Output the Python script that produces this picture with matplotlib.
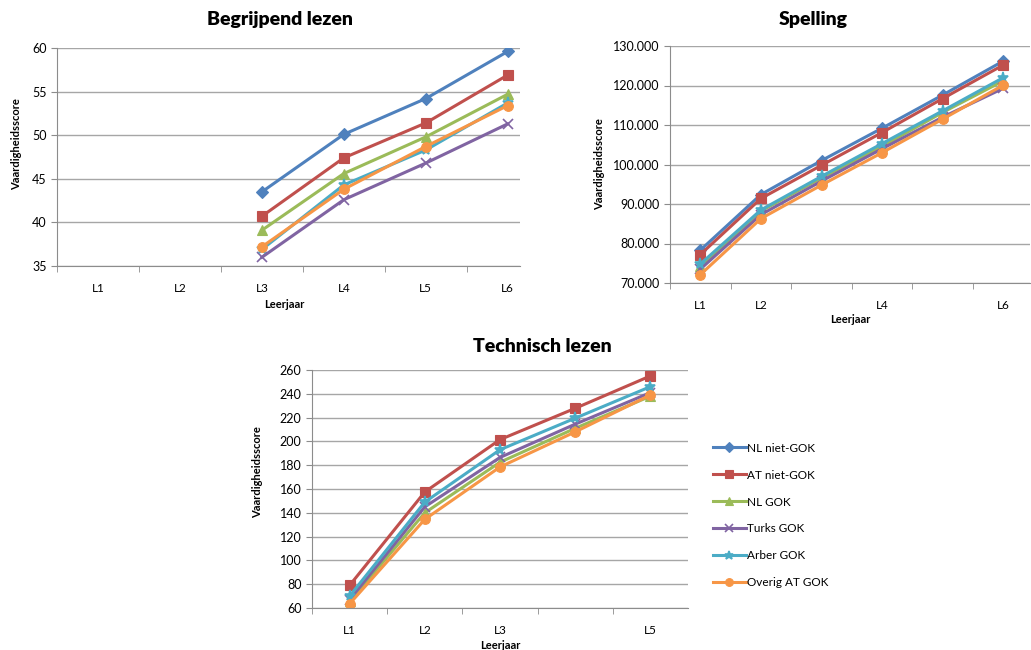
import numpy as np
import matplotlib
matplotlib.use("Agg")
import matplotlib.pyplot as plt
from matplotlib.ticker import FuncFormatter, FixedLocator

plt.rcParams['font.family'] = ['Lato', 'DejaVu Sans']

nan = np.nan
series = ["NL niet-GOK", "AT niet-GOK", "NL GOK", "Turks GOK", "Arber GOK", "Overig AT GOK"]
colors = ["#4F81BD", "#C0504D", "#9BBB59", "#8064A2", "#4BACC6", "#F79646"]
markers = ["D", "s", "^", "x", "*", "o"]

# Begrijpend lezen
bl_labels = ["L1", "L2", "L3", "L4", "L5", "L6"]
bl_nl_niet = [nan, nan, 43.5, 50.1, 54.2, 59.6]
bl_at_niet = [nan, nan, 40.7, 47.4, 51.4, 56.9]
bl_nl_gok = [nan, nan, 39.1, 45.6, 49.8, 54.7]
bl_turks = [nan, nan, 36.0, 42.6, 46.8, 51.3]
bl_arber = [nan, nan, 36.9, 44.3, 48.3, 53.7]
bl_overig = [nan, nan, 37.2, 43.8, 48.7, 53.4]

# Spelling
sp_labels = ["L1", "L2", "", "L4", "", "L6"]
sp_nl_niet = [78.3, 92.4, 101.0, 109.2, 117.6, 126.2]
sp_at_niet = [77.2, 91.4, 99.8, 108.1, 116.7, 125.2]
sp_nl_gok = [74.2, 88.2, 96.6, 104.6, 113.2, 121.2]
sp_turks = [73.5, 87.3, 95.8, 104.0, 112.0, 119.3]
sp_arber = [74.8, 88.5, 97.0, 105.3, 113.6, 122.0]
sp_overig = [72.1, 86.3, 94.8, 103.0, 111.5, 120.1]

# Technisch lezen
tl_labels = ["L1", "L2", "L3", "", "L5"]
tl_nl_niet = [nan, nan, nan, nan, nan]
tl_at_niet = [79.0, 157.5, 201.5, 227.8, 255.0]
tl_nl_gok = [65.5, 140.0, 182.5, 211.0, 238.0]
tl_turks = [67.0, 145.0, 186.5, 214.5, 241.0]
tl_arber = [70.0, 149.0, 193.0, 219.5, 246.0]
tl_overig = [63.5, 134.5, 178.5, 208.0, 239.0]

bl_data = [bl_nl_niet, bl_at_niet, bl_nl_gok, bl_turks, bl_arber, bl_overig]
sp_data = [sp_nl_niet, sp_at_niet, sp_nl_gok, sp_turks, sp_arber, sp_overig]
tl_data = [tl_nl_niet, tl_at_niet, tl_nl_gok, tl_turks, tl_arber, tl_overig]

W, H = 1031, 650
fig = plt.figure(figsize=(W / 100, H / 100), dpi=100)


def box(l, t, r, b):
    return [l / W, 1 - b / H, (r - l) / W, (b - t) / H]


def draw(ax, data, labels, ylim, step, xmax, fmt=None):
    x = np.arange(len(labels))
    for vals, name, c, m in zip(data, series, colors, markers):
        ms = {"D": 6, "s": 7, "^": 7, "x": 7, "*": 8, "o": 7}[m]
        ax.plot(x, vals, color=c, lw=2.2, marker=m, ms=ms, mfc=c, mec=c,
                mew=1.2 if m in ("x", "*") else 0.8, label=name)
    ax.set_xlim(-0.5, xmax)
    ax.set_ylim(*ylim)
    ax.set_yticks(np.arange(ylim[0], ylim[1] + 0.001, step))
    if fmt:
        ax.yaxis.set_major_formatter(FuncFormatter(fmt))
    ax.set_xticks(x)
    ax.set_xticklabels(labels)
    ax.xaxis.set_minor_locator(FixedLocator(np.arange(-0.5, xmax, 1.0)))
    ax.tick_params(axis="x", which="major", length=0, pad=12, labelsize=8.5)
    ax.tick_params(axis="x", which="minor", length=4, color="#8c8c8c")
    ax.tick_params(axis="y", length=4, color="#8c8c8c", labelsize=9)
    ax.grid(axis="y", color="#a6a6a6", lw=1)
    ax.set_axisbelow(True)
    for s in ("top", "right"):
        ax.spines[s].set_visible(False)
    for s in ("left", "bottom"):
        ax.spines[s].set_color("#8c8c8c")
    ax.set_xlabel("Leerjaar", fontsize=8, fontweight="bold")
    ax.set_ylabel("Vaardigheidsscore", fontsize=8, fontweight="bold")


ax1 = fig.add_axes(box(57, 48, 520, 266))
draw(ax1, bl_data, bl_labels, (35, 60), 5, 5.15)
ax1.yaxis.set_label_coords(-0.075, 0.56)
ax1.xaxis.set_label_coords(0.49, -0.15)
fig.text(280 / W, 1 - 20 / H, "Begrijpend lezen", ha="center", va="center",
         fontsize=14, fontweight="heavy")

ax2 = fig.add_axes(box(670, 46, 1030, 283))
draw(ax2, sp_data, sp_labels, (70, 130), 10, 5.44, fmt=lambda v, p: f"{v:.3f}")
ax2.yaxis.set_label_coords(-0.18, 0.5)
ax2.xaxis.set_label_coords(0.5, -0.13)
fig.text(813 / W, 1 - 20 / H, "Spelling", ha="center", va="center",
         fontsize=14, fontweight="heavy")

ax3 = fig.add_axes(box(312, 370, 688, 608))
draw(ax3, tl_data, tl_labels, (60, 260), 20, 4.5)
ax3.yaxis.set_label_coords(-0.13, 0.57)
ax3.xaxis.set_label_coords(0.5, -0.135)
fig.text(542 / W, 1 - 347 / H, "Technisch lezen", ha="center", va="center",
         fontsize=14, fontweight="heavy")

handles, names = ax3.get_legend_handles_labels()
fig.legend(handles, names, loc="upper left", bbox_to_anchor=(702 / W, 1 - 432 / H),
           frameon=False, fontsize=8.5, handlelength=2.8, labelspacing=1.35,
           handletextpad=0.1, markerscale=0.8)

fig.savefig("out.png", dpi=100)
